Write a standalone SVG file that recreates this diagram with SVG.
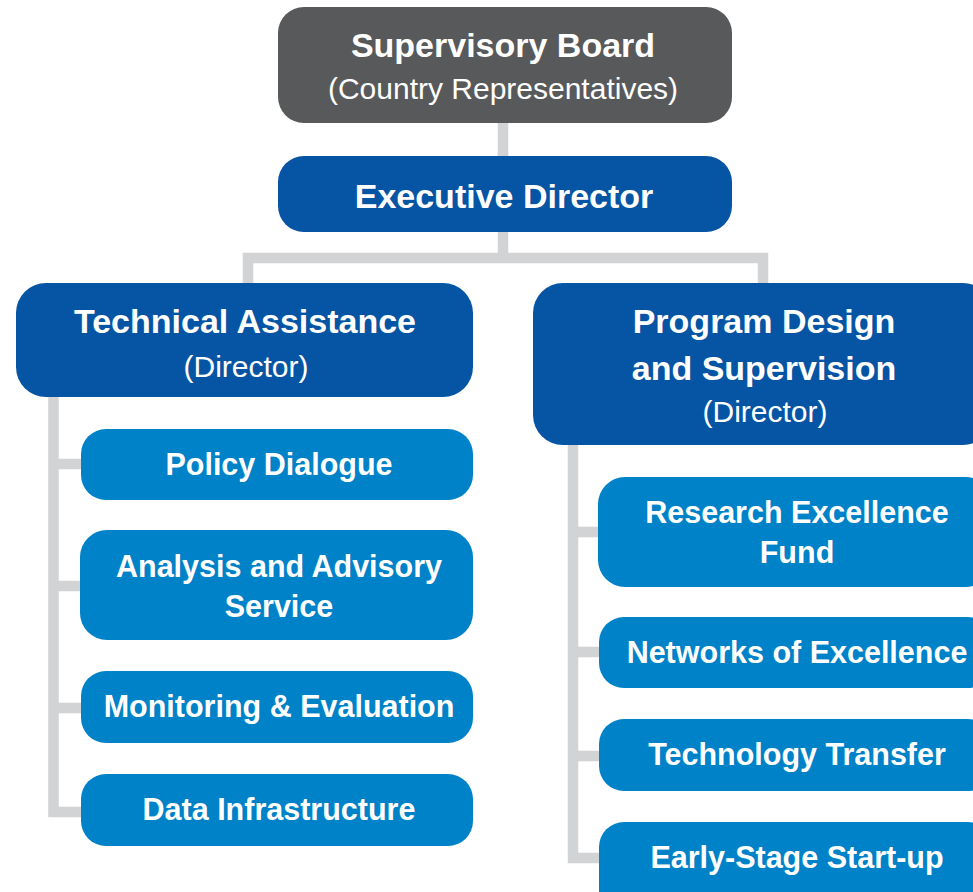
<svg xmlns="http://www.w3.org/2000/svg" width="973" height="892" viewBox="0 0 973 892">
  <style>
    .conn { fill: none; stroke: #d1d3d4; stroke-width: 10.5; stroke-linejoin: miter; stroke-linecap: butt; }
    .gray { fill: #58595b; }
    .dark { fill: #0654a4; }
    .light { fill: #0082c8; }
    .b { font-family: "Liberation Sans", Arial, sans-serif; font-weight: bold; fill: #ffffff; text-anchor: middle; }
    .r { font-family: "Liberation Sans", Arial, sans-serif; font-weight: normal; fill: #ffffff; text-anchor: middle; }
    .h { font-size: 34px; }
    .c { font-size: 30.5px; }
    .s { font-size: 30px; }
  </style>
  <rect width="973" height="892" fill="#ffffff"/>
  <g id="connectors">
    <path class="conn" d="M503 120 V158"/>
    <path class="conn" d="M503 230 V258"/>
    <path class="conn" d="M248 286 V258 H763 V286"/>
    <path class="conn" d="M53.5 395 V812 H83"/>
    <path class="conn" d="M53.5 464 H83"/>
    <path class="conn" d="M53.5 586 H83"/>
    <path class="conn" d="M53.5 708 H83"/>
    <path class="conn" d="M573 443 V858 H601"/>
    <path class="conn" d="M573 532 H601"/>
    <path class="conn" d="M573 652 H601"/>
    <path class="conn" d="M573 756 H601"/>
  </g>
  <g id="supervisory-board">
    <rect class="gray" x="278" y="7" width="454" height="116" rx="26"/>
    <text class="b h" x="503" y="57">Supervisory Board</text>
    <text class="r s" x="503" y="99">(Country Representatives)</text>
  </g>
  <g id="executive-director">
    <rect class="dark" x="278" y="156" width="454" height="76" rx="26"/>
    <text class="b h" x="504" y="208">Executive Director</text>
  </g>
  <g id="technical-assistance">
    <rect class="dark" x="16" y="283" width="457" height="114" rx="30"/>
    <text class="b h" x="245" y="333">Technical Assistance</text>
    <text class="r s" x="246" y="377">(Director)</text>
  </g>
  <g id="program-design">
    <rect class="dark" x="533" y="283" width="460" height="162" rx="30"/>
    <text class="b h" x="764" y="333">Program Design</text>
    <text class="b h" x="764" y="380">and Supervision</text>
    <text class="r s" x="765" y="422">(Director)</text>
  </g>
  <g id="policy-dialogue">
    <rect class="light" x="81" y="429" width="392" height="71" rx="25"/>
    <text class="b c" x="279" y="475">Policy Dialogue</text>
  </g>
  <g id="analysis-advisory">
    <rect class="light" x="80" y="530" width="393" height="110" rx="27"/>
    <text class="b c" x="279" y="577">Analysis and Advisory</text>
    <text class="b c" x="279" y="617">Service</text>
  </g>
  <g id="monitoring-evaluation">
    <rect class="light" x="81" y="671" width="392" height="72" rx="25"/>
    <text class="b c" x="279" y="717">Monitoring &amp; Evaluation</text>
  </g>
  <g id="data-infrastructure">
    <rect class="light" x="81" y="774" width="392" height="72" rx="25"/>
    <text class="b c" x="279" y="820">Data Infrastructure</text>
  </g>
  <g id="research-excellence-fund">
    <rect class="light" x="598" y="477" width="395" height="110" rx="27"/>
    <text class="b c" x="797" y="523">Research Excellence</text>
    <text class="b c" x="797" y="563">Fund</text>
  </g>
  <g id="networks-excellence">
    <rect class="light" x="599" y="617" width="394" height="71" rx="25"/>
    <text class="b c" x="797" y="663">Networks of Excellence</text>
  </g>
  <g id="technology-transfer">
    <rect class="light" x="599" y="719" width="394" height="72" rx="25"/>
    <text class="b c" x="797" y="765">Technology Transfer</text>
  </g>
  <g id="early-stage">
    <rect class="light" x="599" y="822" width="394" height="95" rx="25"/>
    <text class="b c" x="797" y="868">Early-Stage Start-up</text>
  </g>
</svg>
